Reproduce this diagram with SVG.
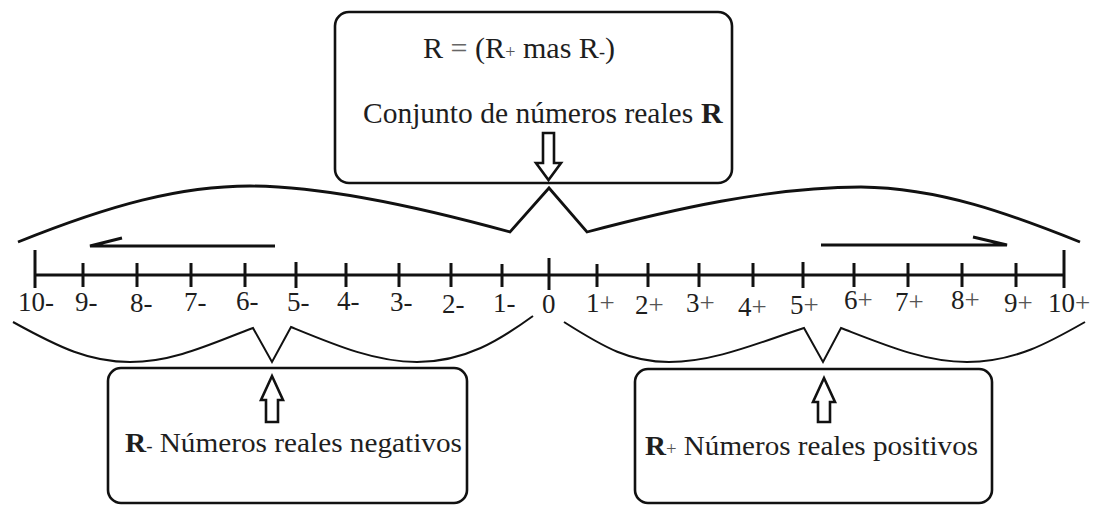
<svg xmlns="http://www.w3.org/2000/svg" width="1100" height="506" viewBox="0 0 1100 506">
<style>
  text { font-family: "Liberation Serif", Tinos, "Noto Serif", "DejaVu Serif", serif; fill: #1e1e1e; }
  .box { fill: none; stroke: #111; stroke-width: 2.6; }
  .brace { fill: none; stroke: #111; stroke-width: 2.8; stroke-linejoin: miter; }
  .brace2 { fill: none; stroke: #111; stroke-width: 2; stroke-linejoin: miter; }
  .hollow { fill: #fff; stroke: #111; stroke-width: 2.6; stroke-linejoin: miter; }
  .axis { stroke: #111; stroke-width: 3; }
  .tick { stroke: #111; stroke-width: 3; }
  .dir { fill: none; stroke: #111; stroke-width: 3; stroke-linecap: butt; }
  .lbl { font-size: 27px; }
  .sgn { fill: #555; }
  .small { font-size: 18px; }
</style>
<rect width="1100" height="506" fill="#fff"/>

<g id="top-box">
  <rect class="box" x="335" y="12" width="397" height="171" rx="14"/>
  <text x="423" y="58" font-size="30" textLength="192" lengthAdjust="spacingAndGlyphs">R <tspan fill="#666">=</tspan> (R<tspan class="small sgn">+</tspan> mas R<tspan class="small">-</tspan>)</text>
  <text x="363" y="123" font-size="29.5">Conjunto de números reales</text>
  <text x="701" y="123" font-size="30" font-weight="bold">R</text>
  <path class="hollow" d="M543,133 H554 V163 H561 L548.5,180 L536,163 H543 Z"/>
</g>

<g id="neg-box">
  <rect class="box" x="108" y="368" width="359" height="135" rx="13"/>
  <path class="hollow" d="M266,422 V400 H261 L272,376 L283,400 H278 V422 Z"/>
  <text x="125" y="452" font-size="28" textLength="337" lengthAdjust="spacingAndGlyphs"><tspan font-weight="bold">R</tspan><tspan class="small">-</tspan> Números reales negativos</text>
</g>

<g id="pos-box">
  <rect class="box" x="635" y="369" width="357" height="134" rx="13"/>
  <path class="hollow" d="M818,422 V402 H813 L824,378 L835,402 H830 V422 Z"/>
  <text x="645" y="455" font-size="28" textLength="333" lengthAdjust="spacingAndGlyphs"><tspan font-weight="bold">R</tspan><tspan class="small sgn">+</tspan> Números reales positivos</text>
</g>

<g id="number-line">
  <line class="axis" x1="35" y1="275" x2="1064" y2="275"/>
  <line class="tick" x1="35" y1="250" x2="35" y2="288"/>
  <line class="tick" x1="83" y1="263" x2="83" y2="287"/>
  <line class="tick" x1="137" y1="263" x2="137" y2="287"/>
  <line class="tick" x1="191" y1="263" x2="191" y2="287"/>
  <line class="tick" x1="245" y1="263" x2="245" y2="287"/>
  <line class="tick" x1="296" y1="262" x2="296" y2="288"/>
  <line class="tick" x1="346" y1="263" x2="346" y2="287"/>
  <line class="tick" x1="399" y1="263" x2="399" y2="287"/>
  <line class="tick" x1="451" y1="263" x2="451" y2="287"/>
  <line class="tick" x1="502" y1="264" x2="502" y2="287"/>
  <line class="tick" x1="549" y1="258" x2="549" y2="290"/>
  <line class="tick" x1="597" y1="264" x2="597" y2="287"/>
  <line class="tick" x1="648" y1="263" x2="648" y2="287"/>
  <line class="tick" x1="699" y1="263" x2="699" y2="287"/>
  <line class="tick" x1="753" y1="263" x2="753" y2="287"/>
  <line class="tick" x1="803" y1="262" x2="803" y2="288"/>
  <line class="tick" x1="854" y1="263" x2="854" y2="287"/>
  <line class="tick" x1="908" y1="263" x2="908" y2="287"/>
  <line class="tick" x1="962" y1="263" x2="962" y2="287"/>
  <line class="tick" x1="1016" y1="263" x2="1016" y2="287"/>
  <line class="tick" x1="1064" y1="250" x2="1064" y2="288"/>

  <text class="lbl" x="18" y="311">10-</text>
  <text class="lbl" x="75" y="311">9-</text>
  <text class="lbl" x="130" y="312">8-</text>
  <text class="lbl" x="184" y="311">7-</text>
  <text class="lbl" x="236" y="310">6-</text>
  <text class="lbl" x="287" y="311">5-</text>
  <text class="lbl" x="337" y="310">4-</text>
  <text class="lbl" x="390" y="311">3-</text>
  <text class="lbl" x="442" y="313">2-</text>
  <text class="lbl" x="493" y="312">1-</text>
  <text class="lbl" x="542" y="313">0</text>
  <text class="lbl" x="586" y="312">1<tspan class="sgn">+</tspan></text>
  <text class="lbl" x="635" y="314">2<tspan class="sgn">+</tspan></text>
  <text class="lbl" x="686" y="312">3<tspan class="sgn">+</tspan></text>
  <text class="lbl" x="738" y="316">4<tspan class="sgn">+</tspan></text>
  <text class="lbl" x="790" y="314">5<tspan class="sgn">+</tspan></text>
  <text class="lbl" x="844" y="309">6<tspan class="sgn">+</tspan></text>
  <text class="lbl" x="895" y="311">7<tspan class="sgn">+</tspan></text>
  <text class="lbl" x="951" y="309">8<tspan class="sgn">+</tspan></text>
  <text class="lbl" x="1004" y="312">9<tspan class="sgn">+</tspan></text>
  <text class="lbl" x="1048" y="312">10<tspan class="sgn">+</tspan></text>
</g>

<g id="connectors">
  <path class="brace" d="M18,242 C110,205 180,186 250,186 C330,186 430,210 510,232 L549,188 L587,232 C670,210 770,187 861,187 C940,188 1010,214 1080,242"/>
  <path class="brace2" d="M13,322 C60,348 90,362 130,362 C175,362 215,342 253,328 L272,362 L291,327 C335,345 375,362 417,362 C465,362 500,340 533,316"/>
  <path class="brace2" d="M564,322 C605,348 630,362 669,362 C715,362 760,342 804,328 L823,362 L841,328 C885,345 925,362 967,362 C1015,362 1050,342 1085,322"/>
  <path class="dir" d="M275,246 H90 L122,238"/>
  <path class="dir" d="M821,245 H1007 L973,237"/>
</g>
</svg>
